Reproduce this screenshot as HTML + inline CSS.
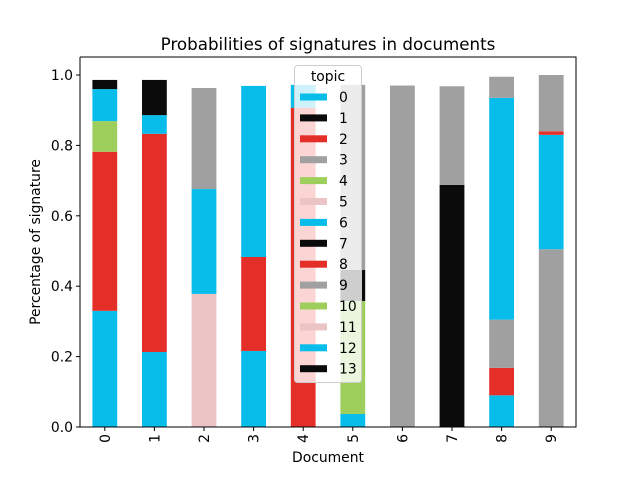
<!DOCTYPE html>
<html><head><meta charset="utf-8"><style>body{margin:0;background:#fff}svg{font-family:"DejaVu Sans","Liberation Sans",sans-serif}</style></head>
<body>
<svg id="chart" width="640" height="480"></svg>
<script>
const documents=["0","1","2","3","4","5","6","7","8","9"];
const topics=["0","1","2","3","4","5","6","7","8","9","10","11","12","13"];
const topicColors=["#08bdea","#0b0b0b","#e42f28","#a0a0a0","#9ecf5c","#ebc5c5","#08bdea","#0b0b0b","#e42f28","#a0a0a0","#9ecf5c","#ebc5c5","#08bdea","#0b0b0b"];
const t0=[0.33,0.213,0,0.216,0,0.037,0,0,0.09,0];
const t1=[0,0,0,0,0,0,0,0,0,0];
const t2=[0.452,0.62,0,0.267,0,0,0,0,0.078,0];
const t3=[0,0,0,0,0,0,0.97,0,0.137,0.505];
const t4=[0.087,0,0,0,0,0.321,0,0,0,0];
const t5=[0,0,0.378,0,0,0,0,0,0,0];
const t6=[0.091,0.053,0.298,0.486,0,0,0,0,0.63,0.325];
const t7=[0.026,0.1,0,0,0,0.088,0,0.688,0,0];
const t8=[0,0,0,0,0.907,0,0,0,0,0.01];
const t9=[0,0,0.287,0,0,0.526,0,0.28,0.06,0.16];
const t10=[0,0,0,0,0,0,0,0,0,0];
const t11=[0,0,0,0,0,0,0,0,0,0];
const t12=[0,0,0,0,0.065,0,0,0,0,0];
const t13=[0,0,0,0,0,0,0,0,0,0];
const series=[t0,t1,t2,t3,t4,t5,t6,t7,t8,t9,t10,t11,t12,t13];
const yTicks=[0,0.2,0.4,0.6,0.8,1.0];
const yTickLabels=["0.0","0.2","0.4","0.6","0.8","1.0"];

const NS="http://www.w3.org/2000/svg";
const svg=document.getElementById('chart');
function mk(tag,attrs,parent){const e=document.createElementNS(NS,tag);for(const k in attrs)e.setAttribute(k,attrs[k]);(parent||svg).appendChild(e);return e;}
const L=80,R=576,T=57,B=427;
const y=v=>B-v*352;
const x=i=>L+24.8+i*49.6;
const bw=24.8;
const FS=13.9;

const title=mk('text',{x:328,y:50,'text-anchor':'middle','font-size':16.7,fill:'#000'});
title.textContent='Probabilities of signatures in documents';



documents.forEach((d,i)=>{
  let base=0;
  series.forEach((s,t)=>{
    const v=s[i];if(v<=0)return;
    const r=mk('rect',{x:x(i)-bw/2,y:y(base+v),width:bw,height:y(base)-y(base+v),fill:topicColors[t]});
    
    
    base+=v;
  });
});

const ax=mk('path',{d:`M${L} ${T}V${B}H${R}V${T}H${L}`,fill:'none',stroke:'#000','stroke-width':1});



yTicks.forEach((v,i)=>{
  mk('line',{x1:L-4,x2:L,y1:y(v),y2:y(v),stroke:'#000'});
  const t=mk('text',{x:L-7,y:y(v)+5,'text-anchor':'end','font-size':FS});
  t.textContent=yTickLabels[i];
  
  
});
documents.forEach((d,i)=>{
  mk('line',{x1:x(i),x2:x(i),y1:B,y2:B+4,stroke:'#000'});
  const t=mk('text',{x:0,y:0,'text-anchor':'end','font-size':FS,transform:`translate(${x(i)+5},${B+7}) rotate(-90)`});
  t.textContent=d;
  
  
});
const xl=mk('text',{x:328,y:462,'text-anchor':'middle','font-size':FS});
xl.textContent='Document';


const yl=mk('text',{x:0,y:0,'text-anchor':'middle','font-size':FS,transform:'translate(40,242) rotate(-90)'});
yl.textContent='Percentage of signature';



const lg=mk('g',{});


mk('rect',{x:294.5,y:65.5,width:67,height:317,rx:3,fill:'#fff','fill-opacity':0.8,stroke:'#ccc'},lg);
const lt=mk('text',{x:328,y:81,'text-anchor':'middle','font-size':FS},lg);
lt.textContent='topic';
topics.forEach((tp,i)=>{
  const yy=97+i*20.9;
  const h=mk('rect',{x:300,y:yy-3.5,width:27,height:7,fill:topicColors[i]},lg);
  
  
  const t=mk('text',{x:339,y:yy+5,'font-size':FS},lg);
  t.textContent=tp;
  
  
});
</script>
</body></html>
